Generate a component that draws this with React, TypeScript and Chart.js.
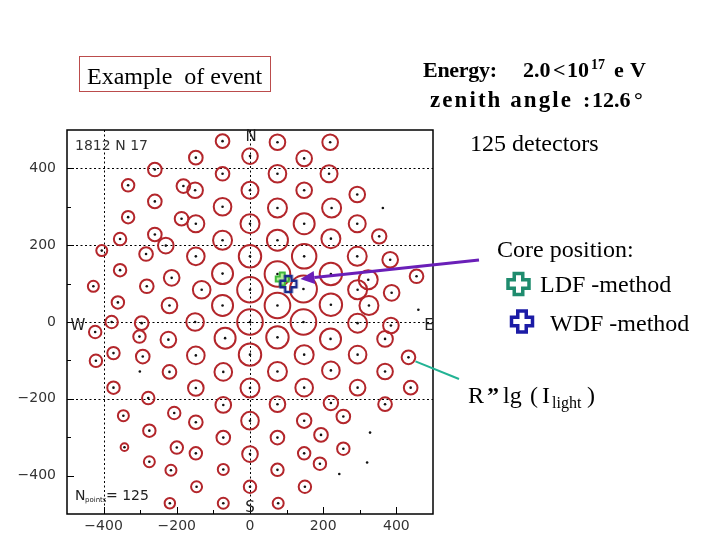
import React, { useEffect, useRef } from "react";
import { Chart, registerables } from "chart.js";
Chart.register(...registerables);

// Detector positions (m) and signal lg(I_light)
const detX = [
  -75, -148, -260, -75, -333, -182, -150, -260, -75, -333,
  -187, -148, -355, -260, -230, -405, -284, -148, -75, -355,
  -214, -428, -282, -132, -75, -361, -220, -75, -378, -296,
  -150, 0, -423, -302, -223, -68, -373, -293, -148, -421,
  0, -220, -73, -373, -148, 0, -278, -73, -346, -207,
  -148, 0, -275, -73, -343, -200, -148, 0, -275, -216,
  -73, -146, 0, -219, -73, 75, 219, 148, 75, 216,
  148, 293, 75, 223, 148, 293, 75, 221, 353, 148,
  293, 383, 75, 221, 455, 323, 146, 294, 387, 75,
  221, 325, 0, 0, 0, 0, 0, 146, 294, 385,
  75, 220, 369, 148, 294, 433, 75, 221, 369, 148,
  294, 439, 75, 221, 369, 148, 255, 194, 75, 148,
  255, 191, 75, 150, 77,
];
const detY = [
  471, 428, 397, 386, 356, 354, 343, 314, 300, 273,
  269, 256, 216, 228, 199, 186, 177, 171, 213, 135,
  115, 93, 93, 84, 126, 51, 43, 43, 0, -3,
  0, 0, -26, -38, -46, -42, -81, -90, -87, -101,
  -85, -130, -130, -171, -172, -172, -198, -216, -244, -237,
  -261, -257, -283, -301, -326, -327, -342, -344, -364, -386,
  -384, -429, -429, -472, -472, 468, 468, 426, 386, 386,
  343, 332, 297, 297, 256, 256, 213, 217, 223, 171,
  171, 162, 125, 125, 119, 110, 86, 84, 76, 43,
  45, 43, 432, 343, 256, 171, 84, 0, -3, -9,
  -40, -44, -44, -85, -85, -92, -129, -126, -129, -171,
  -171, -171, -214, -211, -214, -257, -246, -294, -301, -342,
  -330, -369, -385, -429, -472,
];
const detLgI = [
  1.83, 1.83, 1.83, 1.83, 1.68, 1.83, 2.08, 1.83, 2.33, 1.68,
  1.83, 2.25, 1.68, 1.83, 2.08, 1.5, 1.83, 2.33, 2.5, 1.68,
  2.08, 1.5, 1.83, 2.33, 2.75, 1.68, 2.08, 2.75, 1.68, 1.83,
  2.33, 3.33, 1.68, 1.68, 2.08, 2.75, 1.68, 1.83, 2.33, 1.68,
  2.93, 1.83, 2.33, 1.68, 2.08, 2.5, 1.68, 2.08, 1.5, 1.68,
  1.83, 2.33, 1.68, 1.83, 1.08, 1.68, 1.68, 2.08, 1.5, 1.5,
  1.5, 1.5, 1.68, 1.43, 1.5, 2.08, 2.08, 2.08, 2.33, 2.25,
  2.08, 2.08, 2.5, 2.5, 2.75, 2.25, 2.75, 2.5, 1.93, 3.18,
  2.5, 2.08, 3.33, 2.93, 1.83, 2.5, 3.5, 2.5, 2.08, 3.33,
  2.93, 2.5, 2.08, 2.25, 2.5, 2.93, 3.33, 3.33, 2.5, 2.08,
  2.93, 2.75, 2.08, 2.5, 2.33, 1.83, 2.5, 2.33, 2.08, 2.33,
  2.08, 1.83, 2.08, 1.93, 1.83, 1.93, 1.83, 1.83, 1.83, 1.68,
  1.68, 1.68, 1.68, 1.68, 1.5,
];
// Detectors without signal
const silentX = [-301, 363, 460, 328, 320, 244];
const silentY = [-129, 297, 32, -288, -366, -396];
// Core positions
const coreLDF = { x: 88, y: 112 };
const coreWDF = { x: 105, y: 99 };
const tickValues = [-400, -200, 0, 200, 400];
const gridX = [-400, 0];
const gridY = [400, 200, 0, -200];

function makeCross(size: number, arm: number, stroke: string, fill: string | null, lw: number) {
  const c = document.createElement("canvas");
  const pad = Math.ceil(lw);
  const W = size + pad * 2;
  c.width = W;
  c.height = W;
  const g = c.getContext("2d")!;
  crossPath(g, W / 2, W / 2, size, arm);
  if (fill) {
    g.fillStyle = fill;
    g.fill();
  }
  g.lineWidth = lw;
  g.strokeStyle = stroke;
  g.stroke();
  return c;
}

function crossPath(g: CanvasRenderingContext2D, cx: number, cy: number, size: number, arm: number) {
  const s = size / 2;
  const a = arm / 2;
  g.beginPath();
  g.moveTo(cx - a, cy - s);
  g.lineTo(cx + a, cy - s);
  g.lineTo(cx + a, cy - a);
  g.lineTo(cx + s, cy - a);
  g.lineTo(cx + s, cy + a);
  g.lineTo(cx + a, cy + a);
  g.lineTo(cx + a, cy + s);
  g.lineTo(cx - a, cy + s);
  g.lineTo(cx - a, cy + a);
  g.lineTo(cx - s, cy + a);
  g.lineTo(cx - s, cy - a);
  g.lineTo(cx - a, cy - a);
  g.closePath();
}

function spaced(
  ctx: CanvasRenderingContext2D,
  text: string,
  x: number,
  y: number,
  w: number | null,
  font: string,
  color = "#000"
) {
  const c: any = ctx;
  ctx.font = font;
  ctx.fillStyle = color;
  ctx.textAlign = "left";
  ctx.textBaseline = "alphabetic";
  if ("letterSpacing" in c) c.letterSpacing = "0px";
  const nat = ctx.measureText(text).width;
  const n = Array.from(text).length;
  if (w !== null && "letterSpacing" in c && n > 1) {
    const ls = (w - nat) / (n - 1);
    c.letterSpacing = ls.toFixed(2) + "px";
    ctx.fillText(text, x, y);
    c.letterSpacing = "0px";
  } else {
    ctx.fillText(text, x, y);
  }
}

const decor = {
  id: "decor",
  beforeDatasetsDraw(chart: any) {
    const { ctx, chartArea: a, scales } = chart;
    const xs = scales.x;
    const ys = scales.y;
    ctx.save();
    ctx.strokeStyle = "#000";
    ctx.lineWidth = 1;
    ctx.setLineDash([2, 2.5]);
    gridX.forEach((v) => {
      const px = Math.round(xs.getPixelForValue(v)) + 0.5;
      ctx.beginPath();
      ctx.moveTo(px, a.top);
      ctx.lineTo(px, a.bottom);
      ctx.stroke();
    });
    gridY.forEach((v) => {
      const py = Math.round(ys.getPixelForValue(v)) + 0.5;
      ctx.beginPath();
      ctx.moveTo(a.left, py);
      ctx.lineTo(a.right, py);
      ctx.stroke();
    });
    ctx.restore();
  },
  afterDatasetsDraw(chart: any) {
    const { ctx, chartArea: a, scales } = chart;
    const xs = scales.x;
    const ys = scales.y;
    ctx.save();
    // frame
    ctx.strokeStyle = "#000";
    ctx.lineWidth = 1.5;
    ctx.strokeRect(a.left, a.top, a.right - a.left, a.bottom - a.top);
    // inner ticks
    ctx.lineWidth = 1;
    for (let v = -400; v <= 400; v += 100) {
      const len = v % 200 === 0 ? 7 : 4;
      const px = Math.round(xs.getPixelForValue(v)) + 0.5;
      ctx.beginPath();
      ctx.moveTo(px, a.bottom);
      ctx.lineTo(px, a.bottom - len);
      ctx.stroke();
      const py = Math.round(ys.getPixelForValue(v)) + 0.5;
      ctx.beginPath();
      ctx.moveTo(a.left, py);
      ctx.lineTo(a.left + len, py);
      ctx.stroke();
    }
    // labels inside plot
    const sans = '"DejaVu Sans", sans-serif';
    spaced(ctx, "1812 N 17", a.left + 8, a.top + 20, 73, `14px ${sans}`, "#333");
    ctx.fillStyle = "#222";
    ctx.font = `15px ${sans}`;
    ctx.textAlign = "center";
    const x0 = xs.getPixelForValue(0);
    ctx.fillText("N", x0 + 1, a.top + 11);
    ctx.fillText("S", x0, a.bottom - 2);
    ctx.fillText("W", a.left + 11, ys.getPixelForValue(0) + 8);
    ctx.fillText("E", a.right - 4, ys.getPixelForValue(0) + 8);
    ctx.textAlign = "left";
    ctx.font = `14px ${sans}`;
    ctx.fillText("N", a.left + 8, a.bottom - 14);
    ctx.font = `7px ${sans}`;
    ctx.fillText("points", a.left + 18, a.bottom - 12);
    ctx.font = `14px ${sans}`;
    ctx.fillText("= 125", a.left + 39, a.bottom - 14);

    // purple arrow to core
    const tipX = xs.getPixelForValue(coreWDF.x) + 12;
    const tipY = ys.getPixelForValue(coreWDF.y) - 5;
    const sx = 479;
    const sy = 260;
    const ang = Math.atan2(tipY - sy, tipX - sx);
    const hl = 14;
    const hw = 6.5;
    const bx = tipX - hl * Math.cos(ang);
    const by = tipY - hl * Math.sin(ang);
    ctx.strokeStyle = "#6a1fb8";
    ctx.fillStyle = "#6a1fb8";
    ctx.lineWidth = 3;
    ctx.beginPath();
    ctx.moveTo(sx, sy);
    ctx.lineTo(bx, by);
    ctx.stroke();
    ctx.beginPath();
    ctx.moveTo(tipX, tipY);
    ctx.lineTo(bx + hw * Math.sin(ang), by - hw * Math.cos(ang));
    ctx.lineTo(bx - hw * Math.sin(ang), by + hw * Math.cos(ang));
    ctx.closePath();
    ctx.fill();

    // teal pointer to a detector circle
    const dx = xs.getPixelForValue(detX[105]) + 7;
    const dy = ys.getPixelForValue(detY[105]) + 4;
    ctx.strokeStyle = "#22b394";
    ctx.lineWidth = 2;
    ctx.beginPath();
    ctx.moveTo(dx, dy);
    ctx.lineTo(459, 379);
    ctx.stroke();
    ctx.restore();

    // annotations outside the plot
    ctx.save();
    const serif = '"Liberation Serif", "Times New Roman", serif';
    ctx.strokeStyle = "#bb4c4c";
    ctx.lineWidth = 1;
    ctx.strokeRect(79.5, 56.5, 191, 35);
    spaced(ctx, "Example  of event", 87, 84, null, `24px ${serif}`);

    spaced(ctx, "Energy:", 423, 77, 74, `bold 22px ${serif}`);
    spaced(ctx, "2.0", 523, 77, null, `bold 22px ${serif}`);
    spaced(ctx, "<", 553, 77, null, `bold 22px ${serif}`);
    spaced(ctx, "10", 567, 77, null, `bold 22px ${serif}`);
    spaced(ctx, "17", 591, 69, null, `bold 14px ${serif}`);
    spaced(ctx, "eV", 614, 77, 32, `bold 22px ${serif}`);

    spaced(ctx, "zenith angle", 430, 107, 141, `bold 23px ${serif}`);
    spaced(ctx, ":", 583, 107, null, `bold 22px ${serif}`);
    spaced(ctx, "12.6", 592, 107, null, `bold 22px ${serif}`);
    spaced(ctx, "°", 634, 107, null, `bold 22px ${serif}`);

    spaced(ctx, "125 detectors", 470, 151, null, `24px ${serif}`);
    spaced(ctx, "Core position:", 497, 257, null, `24px ${serif}`);
    spaced(ctx, "LDF -method", 540, 292, null, `24px ${serif}`);
    spaced(ctx, "WDF -method", 550, 331, null, `24px ${serif}`);

    spaced(ctx, "R", 468, 403, null, `24px ${serif}`);
    spaced(ctx, "\u201D", 487, 403, null, `bold 24px ${serif}`);
    spaced(ctx, "lg", 503, 403, null, `24px ${serif}`);
    spaced(ctx, "(", 530, 403, null, `24px ${serif}`);
    spaced(ctx, "I", 542, 403, null, `24px ${serif}`);
    spaced(ctx, "light", 552, 408, null, `16px ${serif}`);
    spaced(ctx, ")", 587, 403, null, `24px ${serif}`);

    // legend crosses
    ctx.lineWidth = 3.5;
    ctx.fillStyle = "#fff";
    crossPath(ctx, 518.5, 284, 21, 8.5);
    ctx.fill();
    ctx.strokeStyle = "#1f8c6e";
    ctx.stroke();
    crossPath(ctx, 522, 321.5, 21, 8.5);
    ctx.fill();
    ctx.strokeStyle = "#1c1ca6";
    ctx.stroke();
    ctx.restore();
  },
};

export default function App() {
  const ref = useRef<HTMLCanvasElement | null>(null);
  useEffect(() => {
    if (!ref.current) return;
    const greenCross = makeCross(13, 5, "#3fb83a", "#b6ec9a", 2);
    const blueCross = makeCross(16, 6.5, "#1a2a8c", null, 2.5);
    const pts = detX.map((x, i) => ({ x, y: detY[i] }));
    const dots = pts.concat(silentX.map((x, i) => ({ x, y: silentY[i] })));
    const tickFont = { family: "DejaVu Sans", size: 14 };
    const fmt = (v: any) => String(v).replace("-", "\u2212");
    const chart = new Chart(ref.current, {
      type: "scatter",
      data: {
        datasets: [
          {
            label: "WDF core",
            data: [coreWDF],
            pointStyle: blueCross as any,
            pointRadius: 8,
            order: 1,
          },
          {
            label: "LDF core",
            data: [coreLDF],
            pointStyle: greenCross as any,
            pointRadius: 7,
            order: 2,
          },
          {
            label: "detectors",
            data: dots,
            pointRadius: 1.3,
            pointBackgroundColor: "#111",
            pointBorderWidth: 0,
            order: 3,
          },
          {
            label: "lg(I)",
            data: pts,
            pointRadius: (c: any) => detLgI[c.dataIndex] * 4 - 0.5,
            pointBorderColor: "#b3262b",
            pointBackgroundColor: "rgba(0,0,0,0)",
            pointBorderWidth: 2,
            order: 4,
          },
        ],
      },
      options: {
        animation: false,
        responsive: false,
        layout: { padding: { left: 7, right: 287, top: 130, bottom: 0 } },
        plugins: { legend: { display: false }, tooltip: { enabled: false } },
        scales: {
          x: {
            type: "linear",
            min: -500,
            max: 500,
            grid: { display: false, drawTicks: false },
            border: { display: false },
            afterBuildTicks: (s: any) => {
              s.ticks = tickValues.map((v) => ({ value: v }));
            },
            afterFit: (s: any) => {
              s.height = 26;
            },
            ticks: { padding: 4, color: "#333", font: tickFont, callback: fmt },
          },
          y: {
            type: "linear",
            min: -500,
            max: 500,
            grid: { display: false, drawTicks: false },
            border: { display: false },
            afterBuildTicks: (s: any) => {
              s.ticks = tickValues.map((v) => ({ value: v }));
            },
            afterFit: (s: any) => {
              s.width = 60;
            },
            ticks: { padding: 11, color: "#333", font: tickFont, callback: fmt },
          },
        },
      },
      plugins: [decor],
    });
    return () => chart.destroy();
  }, []);
  return (
    <div style={{ position: "fixed", left: 0, top: 0, width: 720, height: 540, background: "#fff" }}>
      <canvas ref={ref} width={720} height={540} style={{ display: "block" }} />
    </div>
  );
}
